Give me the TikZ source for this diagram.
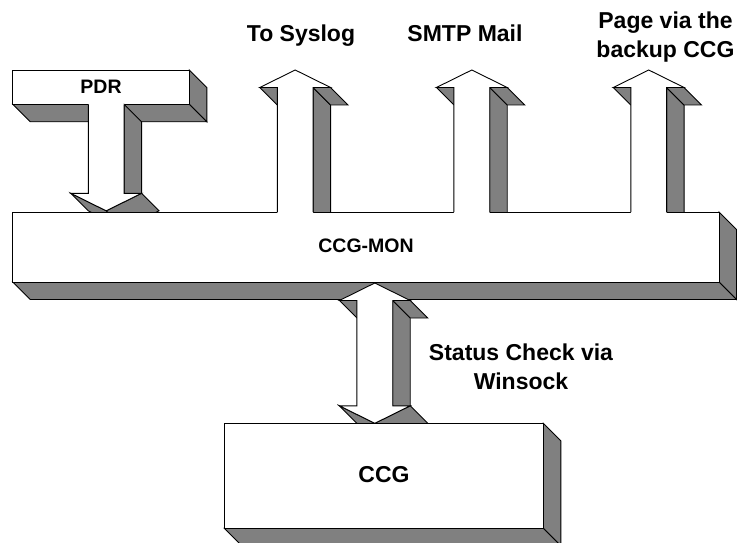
\documentclass[tikz,border=0pt]{standalone}
\usepackage{fontspec}
\setmainfont{Liberation Sans}
\usetikzlibrary{calc}
\definecolor{shade}{RGB}{128,128,128}
\newcommand\depthD{17.5}
\tikzset{
  sideface/.style={fill=shade,draw=black,line width=0.9pt,line join=miter},
  edge/.style={draw=black,line width=0.9pt,line join=miter},
  lbl/.style={font=\fontsize{23}{28.5}\selectfont\bfseries,inner sep=0pt,align=center},
  smalllbl/.style={font=\fontsize{19.5}{23}\selectfont\bfseries,inner sep=0pt}
}
\newcommand\sidequad[2]{\filldraw[sideface] (#1) -- (#2) -- ($(#2)+(\depthD,\depthD)$) -- ($(#1)+(\depthD,\depthD)$) -- cycle;}
% extruded box: sides then front
\newcommand\boxshape[4]{%
  \sidequad{#3,#2}{#3,#4}%
  \sidequad{#1,#4}{#3,#4}%
  \filldraw[edge,fill=white] (#1,#2) rectangle (#3,#4);}
% upward arrow, shaft bottom at 212, tip at 70
\newcommand\uparrsides[1]{%
  \pgfmathsetmacro\uaL{#1-17.9}\pgfmathsetmacro\uaR{#1+17.9}%
  \pgfmathsetmacro\uhL{#1-35.4}\pgfmathsetmacro\uhR{#1+35.4}%
  \sidequad{\uaR,87.5}{\uaR,212}%
  \sidequad{\uhL,87.5}{\uaL,87.5}%
  \sidequad{\uaR,87.5}{\uhR,87.5}}
\newcommand\uparrfront[1]{%
  \pgfmathsetmacro\uaL{#1-17.9}\pgfmathsetmacro\uaR{#1+17.9}%
  \pgfmathsetmacro\uhL{#1-35.4}\pgfmathsetmacro\uhR{#1+35.4}%
  \fill[white] (\uaL,212.9) -- (\uaL,87.5) -- (\uhL,87.5) -- (#1,70) -- (\uhR,87.5) -- (\uaR,87.5) -- (\uaR,212.9) -- cycle;
  \draw[edge] (\uaL,212) -- (\uaL,87.5) -- (\uhL,87.5) -- (#1,70) -- (\uhR,87.5) -- (\uaR,87.5) -- (\uaR,212);}
\begin{document}
\begin{tikzpicture}[x=1pt,y=-1pt]
\useasboundingbox (0,0) rectangle (737,543);
\fill[white] (0,0) rectangle (737,543);

% PDR box
\boxshape{12.7}{70}{189.3}{104.3}
\node[smalllbl] (pdr) at (101,87.2) {PDR};

% PDR down arrow
\sidequad{124.1,104.3}{124.1,193.3}
\sidequad{70.8,193.3}{106.2,210.8}
\sidequad{106.2,210.8}{141.6,193.3}
\fill[white] (88.3,103.4) -- (88.3,193.3) -- (70.8,193.3) -- (106.2,210.8) -- (141.6,193.3) -- (124.1,193.3) -- (124.1,103.4) -- cycle;
\draw[edge] (88.3,104.3) -- (88.3,193.3) -- (70.8,193.3) -- (106.2,210.8) -- (141.6,193.3) -- (124.1,193.3) -- (124.1,104.3);

% up arrows (sides)
\uparrsides{295.2}
\uparrsides{471.8}
\uparrsides{648.7}

% CCG-MON box
\boxshape{12.7}{212}{719}{282}
\node[smalllbl, anchor=base] (mon) at (366,252) {CCG-MON};

% up arrows (fronts)
\uparrfront{295.2}
\uparrfront{471.8}
\uparrfront{648.7}

% double arrow between CCG-MON and CCG
\sidequad{392.7,300.5}{392.7,405.8}
\sidequad{339.4,300.5}{356.9,300.5}
\sidequad{392.7,300.5}{410.2,300.5}
\sidequad{339.4,405.8}{374.8,423.3}
\sidequad{374.8,423.3}{410.2,405.8}
\filldraw[edge,fill=white] (374.8,283) -- (410.2,300.5) -- (392.7,300.5) -- (392.7,405.8) -- (410.2,405.8) -- (374.8,423.3) -- (339.4,405.8) -- (356.9,405.8) -- (356.9,300.5) -- (339.4,300.5) -- cycle;

% CCG box
\boxshape{224.3}{423.3}{543.3}{528.3}
\node[lbl] (ccg) at (384,475) {CCG};

% labels
\node[lbl, anchor=base] (syslog) at (301,42) {To Syslog};
\node[lbl, anchor=base] (smtp) at (465,42) {SMTP Mail};
\node[lbl, anchor=north] (page) at (665.5,11.7) {Page via the\\backup CCG};
\node[lbl, anchor=north] (status) at (521,344) {Status Check via\\Winsock};
\end{tikzpicture}
\end{document}
